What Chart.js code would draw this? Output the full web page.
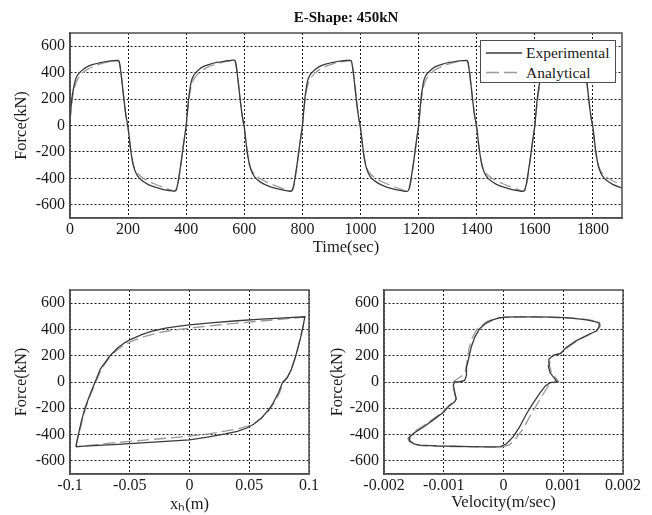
<!DOCTYPE html>
<html>
<head>
<meta charset="utf-8">
<title>E-Shape: 450kN</title>
<script src="https://cdn.jsdelivr.net/npm/chart.js@4"></script>
<style>
  body { margin: 0; background: #fff; }
  #wrap { position: relative; width: 652px; height: 515px; overflow: hidden; }
  #wrap canvas { position: absolute; }
  #legend {
    position: absolute; left: 480px; top: 40px; width: 136px; height: 43px;
    box-sizing: border-box; border: 1.5px solid #4d4d4d; background: #fff;
    font-family: 'Liberation Serif', 'Times New Roman', serif; font-size: 15.5px; color: #1a1a1a;
    z-index: 2;
  }
  #legend span { position: absolute; left: 45px; line-height: 18px; white-space: nowrap; }
  #legend svg { position: absolute; left: 0; top: 0; }
</style>
</head>
<body>
<div id="wrap">
  <canvas id="timeChart" width="652" height="262" style="left:0;top:0"></canvas>
  <canvas id="dispChart" width="330" height="235" style="left:0;top:280px"></canvas>
  <canvas id="velChart" width="332" height="235" style="left:320px;top:280px"></canvas>
  <div id="legend">
    <svg width="44" height="42">
      <line x1="5" y1="12" x2="41" y2="12" stroke="#3a3a3a" stroke-width="1.3"/>
      <line x1="5" y1="31.5" x2="41" y2="31.5" stroke="#9a9a9a" stroke-width="1.3" stroke-dasharray="13,5"/>
    </svg>
    <span style="top:2.5px">Experimental</span>
    <span style="top:22.5px">Analytical</span>
  </div>
</div>
<script>
// tick values
const forceTicks = [-600, -400, -200, 0, 200, 400, 600];
const timeTicks = [0, 200, 400, 600, 800, 1000, 1200, 1400, 1600, 1800];
const dispTicks = [-0.1, -0.05, 0, 0.05, 0.1];
const velTicks = [-0.002, -0.001, 0, 0.001, 0.002];

// force history (kN) against time (sec)
const tSec = [
  0,4,8,13,18,25,33,45,60,80,105,130,150,164,169,174,180,186,193,200,206,212,219,227,237,250,268,290,315,340,358,365,371,377,383,389,395,
  400,404,408,413,418,425,433,445,460,480,505,530,550,564,569,574,580,586,593,600,606,612,619,627,637,650,668,690,715,740,758,765,771,777,783,789,795,
  800,804,808,813,818,825,833,845,860,880,905,930,950,964,969,974,980,986,993,1000,1006,1012,1019,1027,1037,1050,1068,1090,1115,1140,1158,1165,1171,1177,1183,1189,1195,
  1200,1204,1208,1213,1218,1225,1233,1245,1260,1280,1305,1330,1350,1364,1369,1374,1380,1386,1393,1400,1406,1412,1419,1427,1437,1450,1468,1490,1515,1540,1558,1565,1571,1577,1583,1589,1595,
  1600,1604,1608,1613,1618,1625,1633,1645,1660,1680,1705,1730,1750,1764,1769,1774,1780,1786,1793,1800,1806,1812,1819,1827,1837,1850,1868,1890,1900
];
const forceExp = [
  30,150,230,290,340,378,400,424,446,462,476,485,490,492,486,420,310,190,70,-15,-130,-230,-310,-360,-395,-420,-445,-465,-481,-492,-497,-488,-440,-360,-270,-170,-75,
  0,100,195,280,338,377,399,425,447,463,477,486,491,494,487,422,312,192,72,-12,-128,-228,-308,-358,-393,-419,-444,-464,-480,-491,-498,-489,-442,-362,-272,-172,-77,
  0,98,194,279,339,378,401,426,448,464,478,487,492,493,485,418,308,188,68,-16,-131,-231,-311,-361,-396,-421,-446,-466,-482,-493,-499,-490,-441,-361,-271,-171,-76,
  0,101,196,281,341,379,400,425,447,463,477,486,491,493,486,421,311,191,71,-14,-129,-229,-309,-359,-394,-420,-445,-465,-481,-492,-498,-488,-440,-360,-270,-170,-75,
  0,99,195,280,340,378,400,425,447,463,477,486,491,493,486,420,310,190,70,-15,-130,-230,-310,-360,-395,-420,-445,-465,-472
];
const forceAna = [
  30,130,200,262,305,345,372,400,425,447,467,481,489,492,480,425,315,190,65,-30,-140,-235,-305,-345,-373,-395,-418,-441,-463,-483,-495,-491,-450,-368,-278,-178,-82,
  0,90,170,250,305,345,372,400,425,447,467,481,489,492,480,425,315,190,65,-30,-140,-235,-305,-345,-373,-395,-418,-441,-463,-483,-495,-491,-450,-368,-278,-178,-82,
  0,90,170,250,305,345,372,400,425,447,467,481,489,492,480,425,315,190,65,-30,-140,-235,-305,-345,-373,-395,-418,-441,-463,-483,-495,-491,-450,-368,-278,-178,-82,
  0,90,170,250,305,345,372,400,425,447,467,481,489,492,480,425,315,190,65,-30,-140,-235,-305,-345,-373,-395,-418,-441,-463,-483,-495,-491,-450,-368,-278,-178,-82,
  0,90,170,250,305,345,372,400,425,447,467,481,489,492,480,425,315,190,65,-30,-140,-235,-305,-345,-373,-395,-418,-441,-450
];

// hysteresis loop: force against displacement x_h (m)
const dispExp = [-0.095,-0.094,-0.093,-0.0905,-0.0875,-0.0835,-0.079,-0.0745,-0.0665,-0.060,-0.054,-0.049,-0.040,-0.030,-0.020,-0.010,0,0.020,0.040,0.060,0.080,0.0965,0.095,0.093,0.0905,0.088,0.085,0.0815,0.078,0.0745,0.070,0.066,0.060,0.054,0.048,0.040,0.030,0.015,0,-0.020,-0.040,-0.060,-0.080,-0.095];
const dispForceExp = [-492,-440,-400,-300,-200,-100,0,100,200,260,300,325,360,390,410,424,435,452,466,478,488,496,420,340,250,170,90,30,0,-80,-160,-215,-275,-320,-350,-375,-395,-420,-440,-452,-463,-474,-484,-492];
const dispAna = [-0.095,-0.094,-0.0925,-0.090,-0.087,-0.083,-0.0785,-0.0735,-0.066,-0.059,-0.053,-0.047,-0.038,-0.028,-0.018,-0.009,0,0.020,0.040,0.060,0.080,0.0965,0.095,0.093,0.0905,0.088,0.085,0.082,0.0785,0.075,0.0705,0.0665,0.061,0.055,0.049,0.041,0.031,0.016,0,-0.020,-0.040,-0.060,-0.080,-0.095];
const dispForceAna = [-494,-445,-400,-300,-200,-100,0,100,200,255,290,315,345,370,388,400,410,430,448,464,480,495,425,345,255,175,95,35,-10,-90,-165,-215,-270,-310,-335,-355,-372,-395,-412,-428,-444,-460,-478,-494];

// force against velocity (m/sec)
const velExp = [-0.00006,0.00005,0.00016,0.00027,0.00038,0.00049,0.0006,0.0007,0.00078,0.0009,0.00085,0.00078,0.00075,0.00076,0.00084,0.00095,0.00105,0.00122,0.00139,0.00155,0.0016,0.0016,0.00155,0.00139,0.00111,0.00083,0.00055,0.00027,0.00005,-0.00006,-0.00018,-0.00029,-0.0004,-0.00048,-0.00054,-0.00059,-0.00062,-0.00062,-0.00065,-0.00073,-0.00082,-0.00084,-0.00081,-0.00079,-0.00082,-0.0009,-0.001,-0.00118,-0.00134,-0.00151,-0.00158,-0.00157,-0.0015,-0.0014,-0.00112,-0.00084,-0.00056,-0.00029,-0.00006];
const velForceExp = [-494,-470,-418,-342,-245,-165,-90,-30,-5,0,30,70,120,175,205,215,262,315,354,388,420,448,458,473,488,493,495,496,494,489,473,448,405,342,266,165,110,50,12,2,0,-25,-90,-128,-152,-178,-228,-290,-342,-392,-425,-448,-470,-480,-486,-489,-491,-494,-494];
const velAna = [-0.00004,0.0001,0.0002,0.00033,0.00045,0.00056,0.00066,0.00074,0.00082,0.00092,0.00087,0.0008,0.00077,0.00078,0.00086,0.00097,0.00108,0.00125,0.00142,0.00157,0.00162,0.00161,0.00152,0.00135,0.00107,0.00078,0.0005,0.00022,0,-0.00012,-0.00028,-0.00045,-0.00053,-0.00058,-0.00061,-0.00063,-0.00065,-0.00075,-0.00083,-0.00085,-0.00082,-0.0008,-0.00083,-0.00091,-0.00101,-0.00119,-0.00136,-0.00153,-0.0016,-0.00158,-0.0015,-0.00135,-0.00105,-0.00075,-0.00045,-0.00018,-0.00004];
const velForceAna = [-496,-478,-435,-355,-255,-170,-95,-35,-8,5,35,75,125,178,207,220,265,318,357,392,425,452,466,478,487,491,493,494,492,485,460,400,330,250,160,100,60,30,5,-20,-85,-125,-150,-176,-225,-285,-338,-388,-428,-452,-476,-486,-490,-492,-493,-495,-496];

Chart.defaults.font.family = "'Liberation Serif', 'Times New Roman', serif";
Chart.defaults.color = '#1a1a1a';

const EXP_COLOR = '#3a3a3a';
const ANA_COLOR = '#9a9a9a';

function pts(xs, ys) {
  return xs.map((x, i) => ({ x: x, y: ys[i] }));
}

// box round the plot area, like the matlab axes
const framePlugin = {
  id: 'frame',
  afterDraw(chart) {
    const a = chart.chartArea, ctx = chart.ctx;
    ctx.save();
    ctx.strokeStyle = '#4d4d4d';
    ctx.lineWidth = 1.5;
    ctx.strokeRect(a.left, a.top, a.right - a.left, a.bottom - a.top);
    ctx.restore();
  }
};

function axis(min, max, ticks, title, o) {
  return {
    type: 'linear',
    min: min,
    max: max,
    afterBuildTicks: s => { s.ticks = ticks.map(v => ({ value: v })); },
    afterFit: s => {
      if (s.isHorizontal()) s.height = o.size; else s.width = o.size;
      s.paddingLeft = s.paddingRight = s.paddingTop = s.paddingBottom = 0;
    },
    grid: { color: '#1a1a1a', lineWidth: 1, drawTicks: false },
    border: { color: '#4d4d4d', width: 1.5, dash: [2, 2] },
    ticks: { font: { size: 16 }, padding: o.tickPad, maxRotation: 0, autoSkip: false, callback: v => String(v) },
    title: { display: true, text: title, font: { size: 16.5 }, padding: o.titlePad }
  };
}

function line(label, data, color, dash, smooth) {
  return {
    label: label,
    data: data,
    showLine: true,
    borderColor: color,
    borderWidth: 1.3,
    borderDash: dash,
    pointRadius: 0,
    fill: false,
    tension: 0,
    cubicInterpolationMode: smooth ? 'monotone' : 'default'
  };
}

function makeChart(id, datasets, xAxis, yAxis, padding, title) {
  return new Chart(document.getElementById(id), {
    type: 'scatter',
    data: { datasets: datasets },
    options: {
      responsive: false,
      animation: false,
      events: [],
      layout: { padding: padding },
      scales: { x: xAxis, y: yAxis },
      plugins: {
        legend: { display: false },
        tooltip: { enabled: false },
        title: title || { display: false }
      }
    },
    plugins: [framePlugin]
  });
}

makeChart('timeChart',
  [line('Experimental', pts(tSec, forceExp), EXP_COLOR, [], true),
   line('Analytical', pts(tSec, forceAna), ANA_COLOR, [12, 5], true)],
  axis(0, 1900, timeTicks, 'Time(sec)', { size: 44, tickPad: 2, titlePad: { top: 0, bottom: 4 } }),
  axis(-700, 700, forceTicks, 'Force(kN)', { size: 70, tickPad: 5, titlePad: { top: 12, bottom: 0 } }),
  { left: 0, right: 30, top: 0, bottom: 0 },
  { display: true, text: 'E-Shape: 450kN', fullSize: false, color: '#111',
    font: { size: 15, weight: 'bold' }, padding: { top: 9, bottom: 6 } });

makeChart('dispChart',
  [line('Experimental', pts(dispExp, dispForceExp), EXP_COLOR, [], false),
   line('Analytical', pts(dispAna, dispForceAna), ANA_COLOR, [12, 5], false)],
  axis(-0.1, 0.1, dispTicks, 'x\u2095(m)', { size: 41, tickPad: 2, titlePad: { top: 0, bottom: 0 } }),
  axis(-700, 700, forceTicks, 'Force(kN)', { size: 70, tickPad: 5, titlePad: { top: 12, bottom: 0 } }),
  { left: 0, right: 21, top: 10, bottom: 0 });

makeChart('velChart',
  [line('Experimental', pts(velExp, velForceExp), EXP_COLOR, [], false),
   line('Analytical', pts(velAna, velForceAna), ANA_COLOR, [12, 5], false)],
  axis(-0.002, 0.002, velTicks, 'Velocity(m/sec)', { size: 41, tickPad: 2, titlePad: { top: 0, bottom: 2 } }),
  axis(-700, 700, forceTicks, 'Force(kN)', { size: 64, tickPad: 5, titlePad: { top: 8, bottom: 0 } }),
  { left: 0, right: 29, top: 10, bottom: 0 });
</script>
</body>
</html>
